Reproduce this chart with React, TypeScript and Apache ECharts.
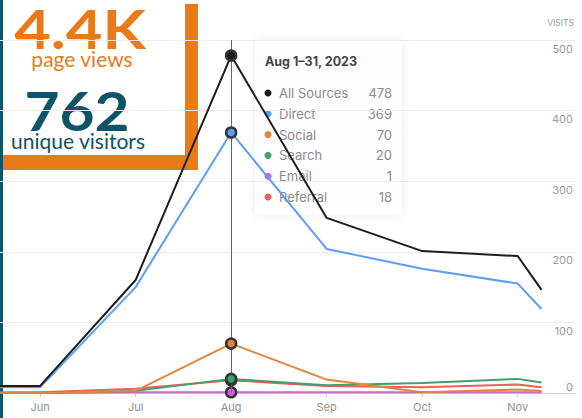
import React, { useEffect, useRef } from "react";
import * as echarts from "echarts";

// x positions of data points in month index units (0 = Jun); -1 = May, 5.25 = partial Dec
const pointIndex = [-1, 0, 1, 2, 3, 4, 5, 5.25];
const monthLabels = ["Jun", "Jul", "Aug", "Sep", "Oct", "Nov"];
const monthTicks = [0, 1, 2, 3, 4, 5];
const yTicks = [0, 100, 200, 300, 400, 500];
const yAxisTitle = "VISITS";

const seriesNames = ["All Sources", "Direct", "Social", "Search", "Email", "Referral"];
const seriesColors = ["#1c1c1c", "#5b9df7", "#e3843d", "#3fa06c", "#d65fd2", "#f25d5d"];

const allSources = [10, 10, 160, 478, 248, 201, 194, 146];
const direct = [8, 8, 150, 369, 204, 176, 155, 119];
const social = [0, 0, 3, 70, 19, 1, 5, 3];
const search = [0, 0, 3, 20, 11, 14, 20, 15];
const email = [0, 0, 1, 1, 1, 1, 1, 1];
const referral = [1, 1, 6, 18, 10, 8, 12, 8];

const tooltipTitle = "Aug 1–31, 2023";
const focusIndex = 3; // Aug in the data arrays

const pageViews = "4.4K";
const pageViewsLabel = "page views";
const uniqueVisitors = "762";
const uniqueVisitorsLabel = "unique visitors";

const ORANGE = "#e97a17";
const TEAL = "#0e5468";

export default function App() {
  const ref = useRef<HTMLDivElement>(null);
  useEffect(() => {
    if (!ref.current) return;
    const chart = echarts.init(ref.current, undefined, { renderer: "svg" });
    const allData = [allSources, direct, social, search, email, referral];
    const drawOrder = [4, 5, 3, 2, 1, 0];

    const series: any[] = drawOrder.map((si) => {
      const vals = allData[si];
      return {
        type: "line",
        name: seriesNames[si],
        symbol: "none",
        clip: true,
        lineStyle: { color: seriesColors[si], width: 2 },
        itemStyle: { color: seriesColors[si] },
        z: 3 + (5 - si),
        data: vals.map((v, i) =>
          i === focusIndex
            ? {
                value: [pointIndex[i], v],
                symbol: "circle",
                symbolSize: 10,
                itemStyle: { color: seriesColors[si], borderColor: "#333", borderWidth: 2.5 },
              }
            : { value: [pointIndex[i], v] }
        ),
        markLine:
          si === 4
            ? {
                silent: true,
                symbol: "none",
                label: { show: false },
                lineStyle: { color: "#666", width: 1, type: "solid" },
                data: [{ xAxis: pointIndex[focusIndex] }],
              }
            : undefined,
      };
    });

    const ttX = 255;
    const ttY = 40;
    const rowY0 = 93;
    const rowH = 20.8;
    const tooltipChildren: any[] = [
      {
        type: "rect",
        shape: { x: ttX, y: ttY, width: 147, height: 175, r: 2 },
        style: { fill: "rgba(255,255,255,0.88)", shadowBlur: 10, shadowColor: "rgba(0,0,0,0.08)" },
      },
      {
        type: "text",
        x: 265,
        y: 61,
        style: {
          text: tooltipTitle,
          fill: "#444",
          font: "bold 12.5px Inter, 'Noto Sans', sans-serif",
          textVerticalAlign: "middle",
        },
      },
    ];
    seriesNames.forEach((n, i) => {
      const y = rowY0 + i * rowH;
      tooltipChildren.push(
        { type: "circle", shape: { cx: 268, cy: y, r: 3.5 }, style: { fill: seriesColors[i] } },
        {
          type: "text",
          x: 279,
          y,
          style: { text: n, fill: "#8a8a8a", font: "13px Inter, 'Noto Sans', sans-serif", textVerticalAlign: "middle" },
        },
        {
          type: "text",
          x: 392,
          y,
          style: {
            text: String(allData[i][focusIndex]),
            fill: "#8a8a8a",
            font: "13px Inter, 'Noto Sans', sans-serif",
            textAlign: "right",
            textVerticalAlign: "middle",
          },
        }
      );
    });

    const option: any = {
      animation: false,
      backgroundColor: "#ffffff",
      grid: { left: 0, right: 7, top: 40, bottom: 25 },
      xAxis: {
        type: "value",
        min: -0.42,
        max: 5.6,
        axisLine: { show: true, lineStyle: { color: "#cfcfcf", width: 1 } },
        axisTick: { show: true, customValues: monthTicks, length: 4, lineStyle: { color: "#cfcfcf" } },
        axisLabel: {
          customValues: monthTicks,
          formatter: (v: number) => monthLabels[Math.round(v)] ?? "",
          color: "#8f8f8f",
          fontSize: 11,
          margin: 8,
          fontFamily: "Inter, 'Noto Sans', sans-serif",
        },
        splitLine: { show: false },
      },
      yAxis: [
        {
          type: "value",
          position: "right",
          min: 0,
          max: 500,
          interval: 100,
          axisLine: { show: false },
          axisTick: { show: false },
          axisLabel: {
            inside: true,
            showMinLabel: false,
            verticalAlign: "top",
            align: "right",
            padding: [3, 0, 0, 0],
            margin: 2,
            color: "#9a9a9a",
            fontSize: 11,
            fontFamily: "Inter, 'Noto Sans', sans-serif",
            formatter: (v: number) => (yTicks.includes(v) ? String(v) : ""),
          },
          splitLine: { show: true, lineStyle: { color: "#ececec", width: 1 } },
        },
        {
          type: "value",
          position: "right",
          min: 0,
          max: 500,
          interval: 100,
          axisLine: { show: false },
          axisTick: { show: false },
          splitLine: { show: false },
          axisLabel: {
            inside: true,
            verticalAlign: "bottom",
            align: "right",
            padding: [0, 0, 1, 0],
            margin: 2,
            color: "#9a9a9a",
            fontSize: 11,
            fontFamily: "Inter, 'Noto Sans', sans-serif",
            formatter: (v: number) => (v === yTicks[0] ? String(v) : ""),
          },
        },
      ],
      series,
      graphic: [
        {
          type: "text",
          x: 574,
          y: 23,
          z: 50,
          style: {
            text: yAxisTitle,
            fill: "#9a9a9a",
            font: "8.5px Inter, 'Noto Sans', sans-serif",
            textAlign: "right",
            textVerticalAlign: "middle",
          },
        },
        { type: "group", z: 100, children: tooltipChildren },
        {
          type: "group",
          z: 110,
          children: [
            { type: "rect", shape: { x: 3, y: 0, width: 182, height: 155 }, style: { fill: "#ffffff" } },
            { type: "rect", shape: { x: 185, y: 4, width: 13, height: 166 }, style: { fill: ORANGE } },
            { type: "rect", shape: { x: 3, y: 155, width: 195, height: 15 }, style: { fill: ORANGE } },
            { type: "rect", shape: { x: 0, y: 0, width: 3, height: 418 }, style: { fill: TEAL } },
            {
              type: "text",
              x: 80,
              y: 28.5,
              scaleX: 1.17,
              style: {
                text: pageViews,
                fill: ORANGE,
                font: "bold 54px Lato, 'Open Sans', sans-serif",
                textAlign: "center",
                textVerticalAlign: "middle",
              },
            },
            {
              type: "text",
              x: 82,
              y: 58,
              style: {
                text: pageViewsLabel,
                fill: ORANGE,
                font: "21px Lato, 'Open Sans', sans-serif",
                textAlign: "center",
                textVerticalAlign: "middle",
              },
            },
            {
              type: "text",
              x: 77,
              y: 110,
              scaleX: 1.12,
              style: {
                text: uniqueVisitors,
                fill: TEAL,
                font: "bold 54px Lato, 'Open Sans', sans-serif",
                textAlign: "center",
                textVerticalAlign: "middle",
              },
            },
            {
              type: "text",
              x: 78,
              y: 140,
              style: {
                text: uniqueVisitorsLabel,
                fill: TEAL,
                font: "21px Lato, 'Open Sans', sans-serif",
                textAlign: "center",
                textVerticalAlign: "middle",
              },
            },
          ],
        },
      ],
    };
    chart.setOption(option);
    return () => chart.dispose();
  }, []);
  return <div ref={ref} style={{ position: "absolute", left: 0, top: 0, width: 582, height: 418 }} />;
}
